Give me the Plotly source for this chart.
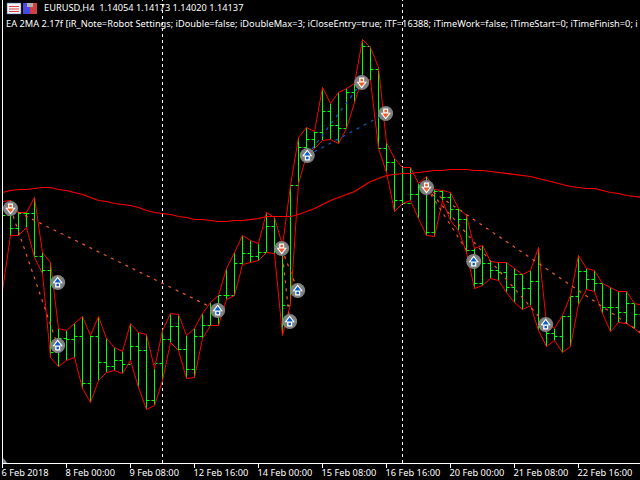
import plotly.graph_objects as go

# Four-hour bars, prices in points (1 point = 0.0001)
highs = [12394,12395,12383,12383,12398,12343,12333,12267,12265,12272,12279,12260,12279,12257,12248,12244,12272,12263,12261,12227,
         12265,12282,12281,12260,12267,12282,12293,12300,12327,12343,12360,12355,12352,12383,12378,12350,12410,12458,12468,12464,
         12508,12492,12503,12507,12512,12556,12548,12528,12453,12437,12428,12428,12412,12419,12406,12405,12403,12387,12380,12347,
         12350,12334,12333,12333,12327,12321,12325,12348,12272,12267,12280,12300,12340,12327,12325,12312,12308,12304,12304,12292,12290]
lows = [12305,12360,12360,12368,12338,12322,12238,12229,12235,12238,12207,12193,12215,12223,12225,12222,12235,12208,12186,12190,
        12215,12253,12245,12217,12218,12257,12270,12270,12296,12300,12331,12333,12335,12343,12342,12260,12292,12412,12440,12447,
        12455,12456,12452,12467,12493,12519,12515,12447,12423,12384,12392,12395,12377,12360,12359,12395,12375,12365,12343,12307,
        12310,12317,12315,12303,12293,12286,12290,12265,12249,12255,12243,12249,12291,12306,12304,12282,12264,12273,12272,12267,12260]
closes = [12380,12367,12382,12382,12339,12325,12243,12257,12256,12259,12212,12259,12233,12229,12235,12231,12249,12245,12195,12232,
          12256,12269,12246,12226,12259,12270,12285,12300,12300,12332,12342,12339,12343,12369,12345,12290,12410,12448,12456,12463,
          12484,12470,12467,12503,12510,12549,12526,12447,12433,12395,12392,12401,12408,12363,12404,12398,12386,12376,12345,12312,
          12332,12325,12323,12308,12321,12307,12314,12272,12262,12259,12279,12299,12324,12316,12312,12288,12288,12283,12292,12281,12280]
opens = [12390,12380,12367,12382,12382,12339,12325,12243,12257,12256,12259,12212,12259,12233,12229,12235,12231,12249,12245,12195,
         12232,12256,12269,12246,12226,12259,12270,12285,12300,12300,12332,12342,12339,12343,12369,12345,12290,12410,12448,12456,
         12463,12484,12470,12467,12503,12510,12549,12526,12447,12433,12395,12392,12401,12408,12363,12404,12398,12386,12376,12345,
         12312,12332,12325,12323,12308,12321,12307,12314,12272,12262,12259,12279,12299,12324,12316,12312,12288,12288,12283,12292,12281]
moving_avg = [12403,12405,12406,12406,12407,12408,12408,12406,12405,12403,12401,12398,12395,12394,12392,12391,12390,12388,12385,12383,
              12382,12381,12379,12378,12376,12376,12375,12374,12374,12375,12375,12376,12377,12379,12379,12379,12379,12381,12384,12387,
              12391,12395,12398,12401,12404,12409,12414,12417,12420,12421,12422,12422,12423,12424,12425,12425,12426,12426,12426,12425,
              12425,12424,12423,12422,12421,12420,12419,12417,12415,12413,12411,12409,12408,12407,12407,12405,12403,12402,12400,12399,12398]

tick_bars = [0,8,16,24,32,40,48,56,64,72]
tick_labels = ["6 Feb 2018","8 Feb 00:00","9 Feb 08:00","12 Feb 16:00","14 Feb 00:00",
               "15 Feb 08:00","16 Feb 16:00","20 Feb 00:00","21 Feb 08:00","22 Feb 16:00"]
separators = [20,50]

buy_bars = [6.9,6.9,26.9,36.9,35.9,38.1,58.9,67.9]
buy_prices = [12313,12250,12285,12305,12274,12440,12334,12271]
sell_bars = [1,34.9,44.9,47.9,53]
sell_prices = [12387,12347,12513,12482,12408]

# (bar, price) -> (bar, price) for closed trades
sell_trades = [((1,12387),(6.9,12250)),((1,12387),(26.9,12285)),((34.9,12347),(35.9,12274)),((34.9,12347),(36.9,12305)),
               ((53,12408),(58.9,12334)),((53,12408),(67.9,12271)),((53,12408),(79.75,12263))]
buy_trades = [((38.1,12440),(44.9,12513)),((38.1,12440),(47.9,12482))]

bars = list(range(len(highs)))
RED="#ff0000"; GREEN="#00ff00"; ORANGE="#f05a28"; BLUE="#0a5fc0"; WHITE="#ffffff"; FONT="Noto Sans"; FS=9.25

fig = go.Figure()
fig.add_trace(go.Ohlc(x=bars,open=opens,high=highs,low=lows,close=closes,tickwidth=0.38,
                      increasing=dict(line=dict(color=GREEN,width=1)),decreasing=dict(line=dict(color=GREEN,width=1))))
fig.add_trace(go.Scatter(x=bars,y=highs,mode="lines",line=dict(color=RED,width=1)))
fig.add_trace(go.Scatter(x=bars,y=lows,mode="lines",line=dict(color=RED,width=1)))
fig.add_trace(go.Scatter(x=bars,y=moving_avg,mode="lines",line=dict(color=RED,width=1.2)))
for trades,c in ((sell_trades,ORANGE),(buy_trades,BLUE)):
    for a,b in trades:
        fig.add_trace(go.Scatter(x=[a[0],b[0]],y=[a[1],b[1]],mode="lines",line=dict(color=c,width=1.2,dash="3px,5px")))

def arrow(xs,ys,d,c):
    # round grey badge with an outlined arrow; d=+1 points up, d=-1 points down
    tri="triangle-up" if d>0 else "triangle-down"
    fig.add_trace(go.Scatter(x=xs,y=ys,mode="markers",marker=dict(size=15,color="#808080",line=dict(width=0))))
    fig.add_trace(go.Scatter(x=xs,y=[v-d*2.5 for v in ys],mode="markers",marker=dict(symbol="square",size=5,color=WHITE,line=dict(width=0))))
    fig.add_trace(go.Scatter(x=xs,y=[v+d*1.5 for v in ys],mode="markers",marker=dict(symbol=tri,size=9,color=WHITE,line=dict(width=0))))
    fig.add_trace(go.Scatter(x=xs,y=[v-d*2.5 for v in ys],mode="markers",marker=dict(symbol="square",size=2.5,color=c,line=dict(width=0))))
    fig.add_trace(go.Scatter(x=xs,y=[v+d*1.5 for v in ys],mode="markers",marker=dict(symbol=tri,size=5.5,color=c,line=dict(width=0))))
arrow(buy_bars,buy_prices,1,BLUE)
arrow(sell_bars,sell_prices,-1,ORANGE)

shapes=[dict(type="line",xref="x",yref="paper",x0=s,x1=s,y0=0,y1=1,layer="below",
             line=dict(color=WHITE,width=1,dash="3px,3px")) for s in separators]
shapes.append(dict(type="line",xref="x",yref="paper",x0=0,x1=0,y0=0,y1=1,line=dict(color=WHITE,width=1)))
def px_rect(x0,y0,x1,y1,fill,lc=None):
    return dict(type="rect",xref="paper",yref="paper",x0=(x0-2)/638,x1=(x1-2)/638,y0=(463-y1)/463,y1=(463-y0)/463,
                fillcolor=fill,line=dict(color=lc or fill,width=0.5 if lc else 0))
shapes+=[px_rect(7,3,21,14,"#f4f4f8","#3a5a9a"),px_rect(9,6,19,7,"#e04040"),px_rect(9,8.5,19,9.5,"#e04040"),px_rect(9,11,19,12,"#e04040"),
         px_rect(23,3,30,14,"#4a4ae0"),px_rect(30,3,37,14,"#d04040"),px_rect(27,3,33,7,"#b0b0b0"),
         dict(type="path",xref="paper",yref="paper",path="M 0.002 0 L 0.002 0.011 L 0.008 0 Z",fillcolor="#8aa0b4",line=dict(width=0))]

fig.update_layout(width=640,height=480,margin=dict(l=2,r=0,t=0,b=17,pad=0),showlegend=False,
    paper_bgcolor="#000000",plot_bgcolor="#000000",hovermode=False,shapes=shapes,
    xaxis=dict(range=[-0.0625,79.6875],rangeslider=dict(visible=False),tickmode="array",tickvals=tick_bars,ticktext=tick_labels,
               ticks="outside",ticklen=4,tickcolor=WHITE,tickwidth=1,showgrid=False,zeroline=False,showline=True,linecolor=WHITE,linewidth=1,
               tickangle=0,automargin=False,ticklabeloverflow="allow",ticklabelposition="outside right",ticklabelshift=-2,ticklabelstandoff=1,
               tickfont=dict(family=FONT,size=FS,color=WHITE)),
    yaxis=dict(range=[12132.5,12595.5],automargin=False,showticklabels=False,ticks="",showgrid=False,zeroline=False,showline=False),
    annotations=[
      dict(text="EURUSD,H4  1.14054 1.14173 1.14020 1.14137",xref="paper",yref="paper",x=(42-2)/638,y=(463-8)/463,xanchor="left",yanchor="middle",showarrow=False,
           font=dict(family=FONT,size=FS,color=WHITE)),
      dict(text="EA 2MA 2.17f [iR_Note=Robot Settings; iDouble=false; iDoubleMax=3; iCloseEntry=true; iTF=16388; iTimeWork=false; iTimeStart=0; iTimeFinish=0; i",
           xref="paper",yref="paper",x=(4-2)/638,y=(463-24)/463,xanchor="left",yanchor="middle",showarrow=False,
           font=dict(family=FONT,size=FS,color=WHITE)),
    ])
fig.write_html("out.html",config=dict(displayModeBar=False),post_script="document.body.style.margin='0';document.body.style.background='#000';document.body.style.overflow='hidden';")
